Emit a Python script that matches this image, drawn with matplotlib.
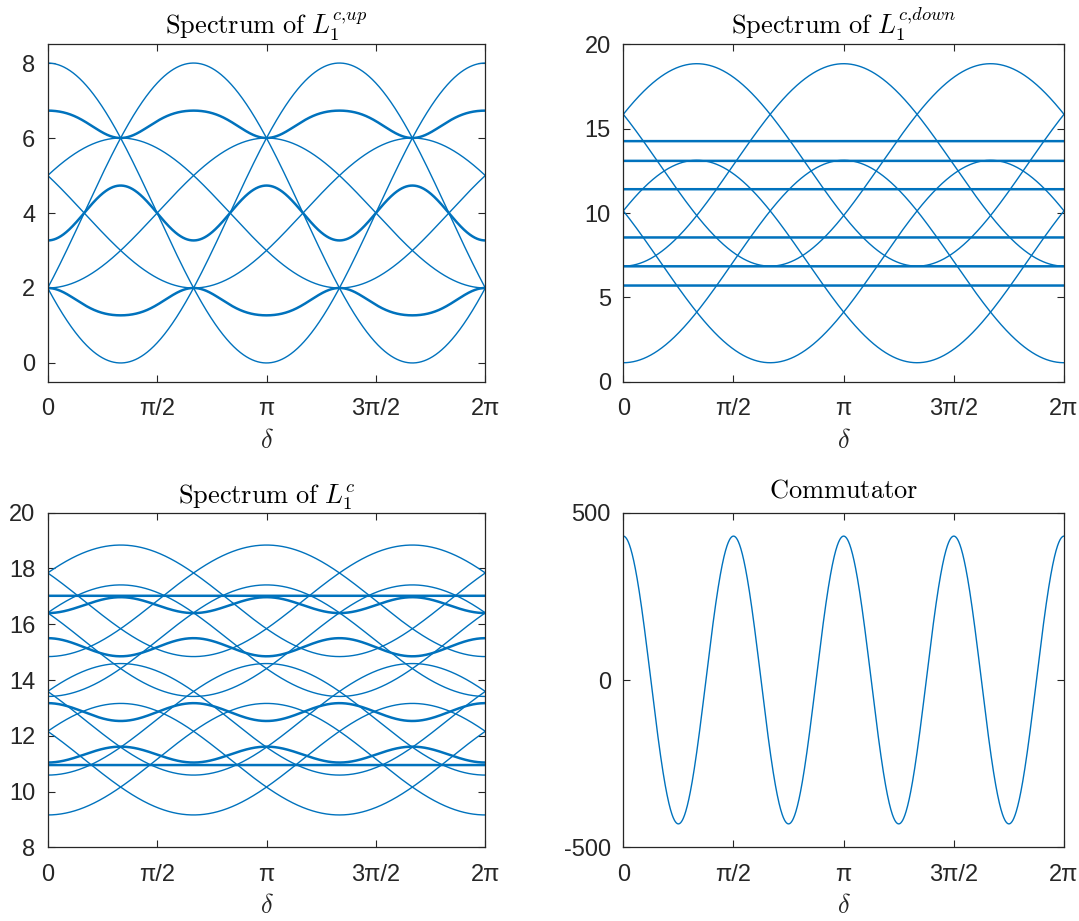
import numpy as np
import matplotlib
matplotlib.use("Agg")
import matplotlib.pyplot as plt

plt.rcParams['font.family'] = ['Liberation Sans', 'DejaVu Sans']
plt.rcParams['mathtext.fontset'] = 'cm'
plt.rcParams['axes.unicode_minus'] = False

BLUE = '#0072BD'
PI = np.pi

# ---------------- data ----------------
delta = np.linspace(0, 2 * PI, 1441)
x_ticks = [0, PI / 2, PI, 3 * PI / 2, 2 * PI]
x_ticklabels = ['0', 'π/2', 'π', '3π/2', '2π']

# Top-left: spectrum of L1^{c,up}
up_big_center, up_big_amp = 4.0, 4.0
up_big_peaks = [0, 2 * PI / 3, 4 * PI / 3]          # maxima positions
up_small_center, up_small_amp = 4.0, 2.0
up_small_peaks = [PI / 3, PI, 5 * PI / 3]
# doubled bands: center, amp of cos(3δ), amp of cos(6δ)
up_band_center = [6.408, 4.0, 1.593]
up_band_a3 = [0.365, -0.732, 0.365]
up_band_a6 = [-0.042, 0.0, 0.042]
up_yticks = [0, 2, 4, 6, 8]

# Top-right: spectrum of L1^{c,down}
down_flat = [14.26, 13.09, 11.41, 8.55, 6.84, 5.70]
down_low_center, down_low_amp = 7.125, 6.0
down_low_minima = [0, 2 * PI / 3, 4 * PI / 3]
down_high_center, down_high_amp = 12.85, 6.0
down_high_peaks = [PI / 3, PI, 5 * PI / 3]
down_yticks = [0, 5, 10, 15, 20]

# Bottom-left: spectrum of L1^c
full_fam_centers = [16.84, 15.41, 12.59, 11.16]
full_fam_amp = 2.0
full_fam_peaks = [PI / 3, PI, 5 * PI / 3]
full_band_center = [17.02, 16.685, 15.175, 12.85, 11.325, 10.95]
full_band_a3 = [0.0, -0.285, 0.325, 0.32, -0.285, 0.0]
full_yticks = [8, 10, 12, 14, 16, 18, 20]

# Bottom-right: commutator
comm_amp = 430.0
comm_freq = 4
comm_yticks = [-500, 0, 500]

# ---------------- figure ----------------
W, H = 1079, 921
fig = plt.figure(figsize=(W / 100, H / 100), dpi=100)

def px_axes(l, t, r, b):
    return fig.add_axes([l / W, 1 - b / H, (r - l) / W, (b - t) / H])

ax_tl = px_axes(47.7, 44.3, 485.3, 381.7)
ax_tr = px_axes(623.3, 44.3, 1064.0, 381.7)
ax_bl = px_axes(47.7, 512.7, 485.3, 847.3)
ax_br = px_axes(623.3, 512.7, 1064.0, 847.3)

THIN = 1.0
THICK = 1.8

# top-left
for p in up_big_peaks:
    ax_tl.plot(delta, up_big_center + up_big_amp * np.cos(delta - p), color=BLUE, lw=THIN)
for p in up_small_peaks:
    ax_tl.plot(delta, up_small_center + up_small_amp * np.cos(delta - p), color=BLUE, lw=THIN)
for c, a3, a6 in zip(up_band_center, up_band_a3, up_band_a6):
    ax_tl.plot(delta, c + a3 * np.cos(3 * delta) + a6 * np.cos(6 * delta), color=BLUE, lw=THICK)

# top-right
for v in down_flat:
    ax_tr.plot(delta, np.full_like(delta, v), color=BLUE, lw=THICK)
for m in down_low_minima:
    ax_tr.plot(delta, down_low_center - down_low_amp * np.cos(delta - m), color=BLUE, lw=THIN)
for p in down_high_peaks:
    ax_tr.plot(delta, down_high_center + down_high_amp * np.cos(delta - p), color=BLUE, lw=THIN)

# bottom-left
for c in full_fam_centers:
    for p in full_fam_peaks:
        ax_bl.plot(delta, c + full_fam_amp * np.cos(delta - p), color=BLUE, lw=THIN)
for c, a3 in zip(full_band_center, full_band_a3):
    ax_bl.plot(delta, c + a3 * np.cos(3 * delta), color=BLUE, lw=THICK)

# bottom-right
ax_br.plot(delta, comm_amp * np.cos(comm_freq * delta), color=BLUE, lw=THIN)

panels = [
    (ax_tl, r'$\mathrm{Spectrum\ of\ }L_1^{c{,}up}$', (-0.5, 8.5), up_yticks, 7),
    (ax_tr, r'$\mathrm{Spectrum\ of\ }L_1^{c{,}down}$', (0, 20), down_yticks, 7),
    (ax_bl, r'$\mathrm{Spectrum\ of\ }L_1^{c}$', (8, 20), full_yticks, 7),
    (ax_br, r'$\mathrm{Commutator}$', (-500, 500), comm_yticks, 11),
]
EDGE = '#262626'
for ax, title, ylim, yt, pad in panels:
    ax.set_xlim(0, 2 * PI)
    ax.set_ylim(*ylim)
    ax.set_xticks(x_ticks)
    ax.set_xticklabels(x_ticklabels)
    ax.set_yticks(yt)
    ax.set_yticklabels([str(v) for v in yt])
    ax.tick_params(direction='in', length=5, width=0.8, top=True, right=True,
                   labelsize=17, colors=EDGE, pad=9)
    ax.tick_params(axis='x', pad=12)
    for s in ax.spines.values():
        s.set_color(EDGE)
        s.set_linewidth(0.9)
    ax.set_title(title, fontsize=19, pad=pad, color='black')
    ax.set_xlabel(r'$\delta$', fontsize=19, labelpad=6, color=EDGE)

fig.savefig('out.png', dpi=100)
